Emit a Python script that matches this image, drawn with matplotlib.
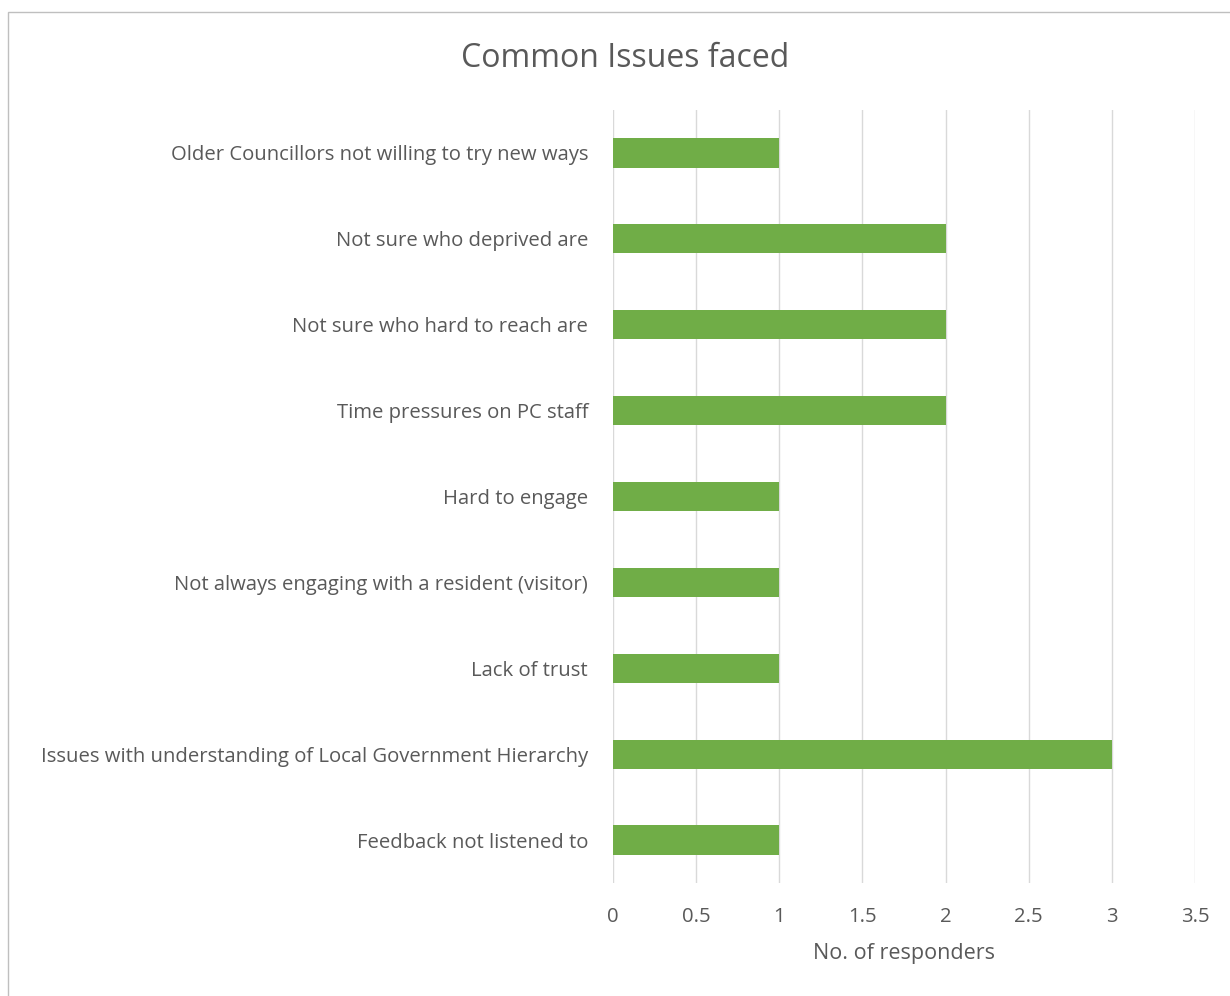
import matplotlib.pyplot as plt
from matplotlib.patches import Rectangle

# categories listed top to bottom as in the chart
issues = [
    "Older Councillors not willing to try new ways",
    "Not sure who deprived are",
    "Not sure who hard to reach are",
    "Time pressures on PC staff",
    "Hard to engage",
    "Not always engaging with a resident (visitor)",
    "Lack of trust",
    "Issues with understanding of Local Government Hierarchy",
    "Feedback not listened to",
]
responders = [1, 2, 2, 2, 1, 1, 1, 3, 1]
xticks = [0, 0.5, 1, 1.5, 2, 2.5, 3, 3.5]

plt.rcParams["font.family"] = ["Open Sans", "DejaVu Sans"]
text_col = "#595959"

fig = plt.figure(figsize=(12.3, 9.96), dpi=100)
ax = fig.add_axes([0.4984, 0.1135, 0.4732, 0.7761])

ypos = list(range(len(issues)))
ax.barh(ypos, responders, height=0.34, color="#70AD47", zorder=3)
ax.set_ylim(len(issues) - 0.5, -0.5)
ax.set_yticks(ypos)
ax.set_yticklabels(issues, fontsize=14.6, color=text_col)
ax.set_xlim(0, 3.5)
ax.set_xticks(xticks)
ax.set_xticklabels([f"{t:g}" for t in xticks], fontsize=14.6, color=text_col)
ax.grid(axis="x", color="#D9D9D9", linewidth=1, zorder=0)
ax.tick_params(axis="y", length=0, pad=18)
ax.tick_params(axis="x", length=0, pad=17)
for s in ax.spines.values():
    s.set_visible(False)
ax.set_xlabel("No. of responders", fontsize=15.5, color=text_col, labelpad=12)

fig.text(0.508, 0.941, "Common Issues faced", fontsize=23, color=text_col,
         ha="center", va="center")

fig.patches.append(Rectangle((0.0065, -0.01), 1.0, 0.998, transform=fig.transFigure,
                             fill=False, edgecolor="#BFBFBF", linewidth=1))

fig.savefig("out.png", dpi=100)
